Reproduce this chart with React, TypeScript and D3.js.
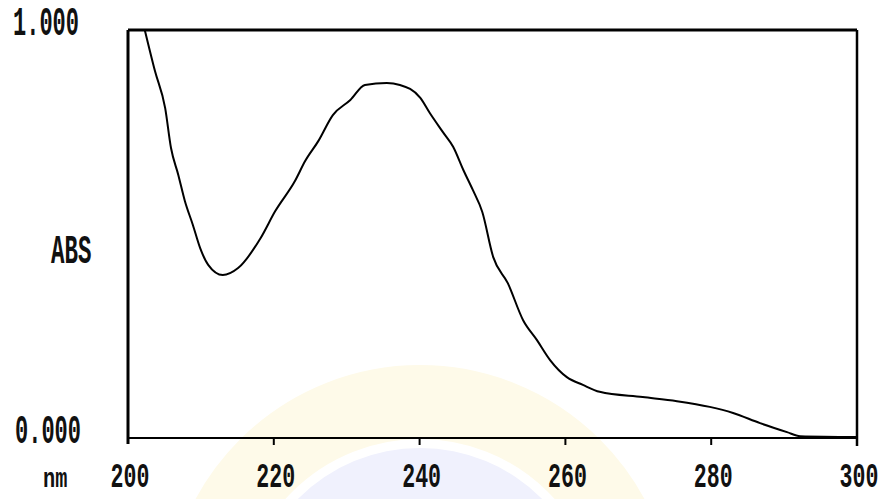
import React from "react";
import * as d3 from "d3";

// wavelength (nm) and absorbance
const wavelength = [
  202.3, 203.7, 205.1, 205.9, 206.9, 207.8, 208.9, 209.9, 211.0, 213.0, 215.1, 218.2,
  220.2, 222.9, 224.3, 226.1, 228.1, 230.5, 232.5, 235.5, 237.3, 240.1, 241.4, 243.2,
  244.6, 246.0, 247.3, 248.6, 250.1, 252.1, 254.2, 256.1, 257.9, 260.2, 262.4, 264.7,
  270.6, 275.3, 279.8, 283.0, 286.7, 290.4, 292.2, 300.0,
];
const absorbance = [
  1.0, 0.899, 0.808, 0.71, 0.644, 0.58, 0.521, 0.464, 0.423, 0.398, 0.415, 0.489,
  0.555, 0.629, 0.678, 0.727, 0.791, 0.828, 0.865, 0.87, 0.865, 0.833, 0.796, 0.749,
  0.713, 0.656, 0.607, 0.553, 0.442, 0.378, 0.287, 0.238, 0.189, 0.147, 0.128, 0.111,
  0.098, 0.088, 0.074, 0.059, 0.034, 0.012, 0.002, 0.0,
];
const xTicks = [200, 220, 240, 260, 280, 300];
const yLabels = ["0.000", "1.000"];

const W = 884;
const H = 499;
const left = 128;
const right = 857;
const top = 30;
const bottom = 438;

const font = "'Liberation Mono', monospace";

function Label({ x, y, text, anchor = "start", size = 40, sx = 0.55 }: any) {
  return (
    <text
      transform={`translate(${x},${y}) scale(${sx},1)`}
      textAnchor={anchor}
      fontFamily={font}
      fontWeight="bold"
      fontSize={size}
      fill="#111"
    >
      {text}
    </text>
  );
}

export default function App() {
  const x = d3.scaleLinear().domain([200, 300]).range([left, right]);
  const y = d3.scaleLinear().domain([0, 1]).range([bottom - 1, top]);
  const pts = wavelength.map((w, i) => [w, absorbance[i]] as [number, number]);
  const line = d3
    .line<[number, number]>()
    .x((d) => x(d[0]))
    .y((d) => y(d[1]))
    .curve(d3.curveMonotoneX);

  return (
    <svg width={W} height={H} style={{ position: "absolute", left: 0, top: 0 }}>
      <rect width={W} height={H} fill="#fff" />
      {/* faint watermark */}
      <circle cx={420} cy={620} r={218} fill="none" stroke="#fefae9" strokeWidth={74} />
      <circle cx={420} cy={620} r={172} fill="#f0f1fd" />

      <path d={line(pts) ?? ""} fill="none" stroke="#000" strokeWidth={2} />

      {/* frame */}
      <line x1={left} y1={top} x2={right} y2={top} stroke="#000" strokeWidth={3} />
      <line x1={left} y1={top} x2={left} y2={bottom + 6} stroke="#000" strokeWidth={3} />
      <line x1={right} y1={top} x2={right} y2={bottom + 8} stroke="#000" strokeWidth={2.5} />
      <line x1={left} y1={bottom} x2={right} y2={bottom} stroke="#000" strokeWidth={2} />
      {xTicks.slice(1, -1).map((t) => (
        <line key={t} x1={x(t)} x2={x(t)} y1={bottom} y2={bottom + 7} stroke="#000" strokeWidth={2} />
      ))}

      {xTicks.map((t) => (
        <Label key={t} x={x(t) + 2} y={487} text={String(t)} anchor="middle" size={36} sx={0.6} />
      ))}
      <Label x={13} y={35} text={yLabels[1]} />
      <Label x={15} y={443} text={yLabels[0]} />
      <Label x={51} y={263} text="ABS" size={40} sx={0.56} />
      <Label x={43} y={487} text="nm" size={27} sx={0.75} />
    </svg>
  );
}
